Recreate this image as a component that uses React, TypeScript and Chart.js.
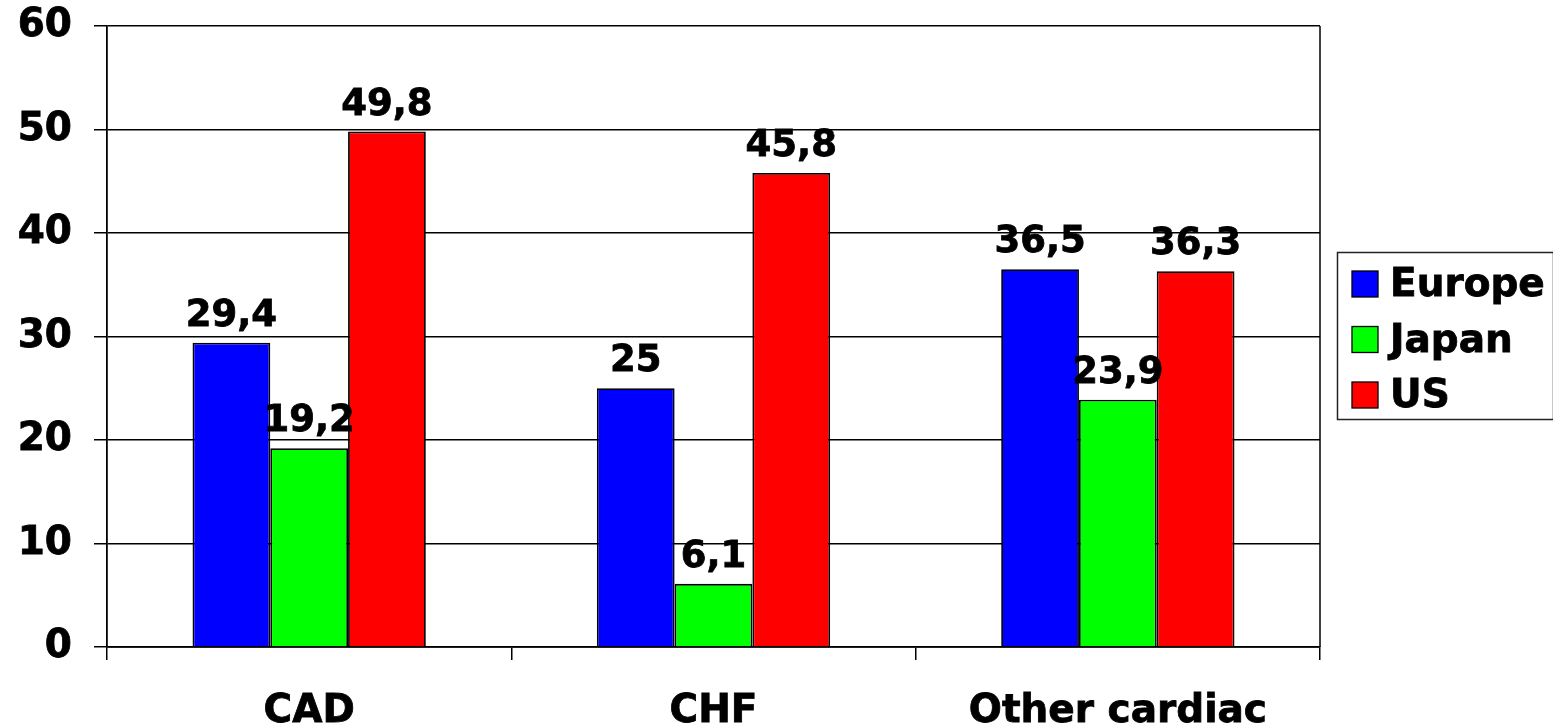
import React, { useEffect, useRef } from "react";
import { Chart, registerables } from "chart.js";

Chart.register(...registerables);

const categories = ["CAD", "CHF", "Other cardiac"];
const seriesNames = ["Europe", "Japan", "US"];
const europe = [29.4, 25, 36.5];
const japan = [19.2, 6.1, 23.9];
const us = [49.8, 45.8, 36.3];
const seriesColors = ["#0000ff", "#00ff00", "#ff0000"];

const FONT = "'DejaVu Sans', Verdana, sans-serif";
const FS = 39;
const LABEL_FS = 37;

const labelsPlugin = {
  id: "valueLabels",
  afterDatasetsDraw(chart: any) {
    const ctx = chart.ctx;
    ctx.save();
    ctx.font = `bold ${LABEL_FS}px ${FONT}`;
    ctx.fillStyle = "#000";
    ctx.strokeStyle = "#000";
    ctx.lineWidth = 0.8;
    ctx.textAlign = "center";
    ctx.textBaseline = "alphabetic";
    chart.data.datasets.forEach((ds: any, i: number) => {
      const meta = chart.getDatasetMeta(i);
      meta.data.forEach((bar: any, j: number) => {
        const v = ds.data[j];
        const t = String(v).replace(".", ",");
        ctx.fillText(t, bar.x, bar.y - 17);
        ctx.strokeText(t, bar.x, bar.y - 17);
      });
    });
    ctx.restore();
  },
};

const framePlugin = {
  id: "frameAndLegend",
  afterDraw(chart: any) {
    const ctx = chart.ctx;
    const a = chart.chartArea;
    ctx.save();
    ctx.strokeStyle = "#000";
    ctx.lineWidth = 1.5;
    ctx.beginPath();
    ctx.moveTo(a.right, a.top);
    ctx.lineTo(a.right, a.bottom);
    ctx.stroke();

    // legend box
    const bx = 1337, by = 252, bw = 216, bh = 167;
    ctx.lineWidth = 1.5;
    ctx.strokeStyle = "#222";
    ctx.strokeRect(bx + 0.5, by + 0.5, bw, bh);
    ctx.font = `bold ${FS}px ${FONT}`;
    ctx.textAlign = "left";
    ctx.textBaseline = "middle";
    chart.data.datasets.forEach((ds: any, i: number) => {
      const cy = 284 + i * 55.5;
      ctx.fillStyle = ds.backgroundColor;
      ctx.fillRect(1352, cy - 13, 26, 26);
      ctx.lineWidth = 1.3;
      ctx.strokeStyle = "#000";
      ctx.strokeRect(1352, cy - 13, 26, 26);
      ctx.fillStyle = "#000";
      ctx.lineWidth = 0.8;
      ctx.fillText(ds.label, 1390, cy + 2);
      ctx.strokeText(ds.label, 1390, cy + 2);
    });
    ctx.restore();
  },
};

const boldTicksPlugin = {
  id: "boldTicks",
  afterDraw(chart: any) {
    const ctx = chart.ctx;
    ctx.save();
    ctx.strokeStyle = "#000";
    ctx.lineWidth = 0.8;
    ctx.font = `bold ${FS}px ${FONT}`;
    const ys = chart.scales.y;
    ctx.textAlign = "right";
    ctx.textBaseline = "middle";
    ys.ticks.forEach((t: any, i: number) => {
      const y = ys.getPixelForTick(i);
      ctx.strokeText(String(t.label), ys.right - 13 - 22, y);
    });
    ctx.restore();
  },
};

export default function App() {
  const ref = useRef<HTMLCanvasElement | null>(null);
  useEffect(() => {
    if (!ref.current) return;
    const values = [europe, japan, us];
    const chart = new Chart(ref.current, {
      type: "bar",
      data: {
        labels: categories,
        datasets: seriesNames.map((n, i) => ({
          label: n,
          data: values[i],
          backgroundColor: seriesColors[i],
          borderColor: "#000",
          borderWidth: 1.8,
          categoryPercentage: 0.577,
          barPercentage: 1,
        })),
      },
      options: {
        animation: false,
        responsive: true,
        maintainAspectRatio: false,
        layout: { padding: { left: 0, top: 26, right: 233, bottom: 0 } },
        plugins: {
          legend: { display: false },
          tooltip: { enabled: false },
        },
        scales: {
          x: {
            afterFit: (s: any) => {
              s.height = 80;
              s.paddingLeft = 0;
              s.paddingRight = 0;
            },
            grid: {
              display: true,
              drawOnChartArea: false,
              drawTicks: true,
              tickLength: 13,
              color: "#000",
              lineWidth: 1.5,
              offset: true,
            },
            border: { display: true, color: "#000", width: 1.8 },
            ticks: {
              color: "#000",
              padding: 28,
              font: { family: FONT, size: FS, weight: "bold" },
              maxRotation: 0,
              textStrokeColor: "#000",
              textStrokeWidth: 0.8,
            },
          },
          y: {
            min: 0,
            max: 60,
            afterFit: (s: any) => {
              s.width = 107;
              s.paddingTop = 0;
              s.paddingBottom = 0;
            },
            ticks: {
              stepSize: 10,
              color: "#000",
              padding: 22,
              font: { family: FONT, size: FS, weight: "bold" },
            },
            grid: {
              color: "#000",
              lineWidth: 1.5,
              tickLength: 13,
              drawTicks: true,
            },
            border: { display: true, color: "#000", width: 1.8 },
          },
        },
      },
      plugins: [labelsPlugin, framePlugin, boldTicksPlugin],
    });
    return () => chart.destroy();
  }, []);
  return (
    <div style={{ position: "fixed", left: 0, top: 0, width: 1553, height: 727, background: "#fff" }}>
      <canvas ref={ref} />
    </div>
  );
}
